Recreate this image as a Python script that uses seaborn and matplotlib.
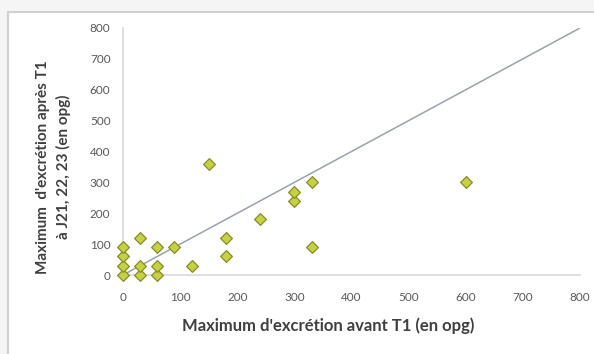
import matplotlib
matplotlib.use("Agg")
import matplotlib.pyplot as plt
import pandas as pd
import seaborn as sns
from matplotlib.patches import Rectangle

# max excretion before T1 (x) and after T1 at J21-23 (y), in opg
avant = [0, 0, 0, 0, 30, 30, 30, 60, 60, 60, 90, 120, 150, 180, 180, 240, 300, 300, 330, 330, 600]
apres = [0, 30, 60, 90, 0, 30, 120, 0, 30, 90, 90, 30, 360, 60, 120, 180, 240, 270, 300, 90, 300]
ref_line = [0, 800]
ticks = [0, 100, 200, 300, 400, 500, 600, 700, 800]

df = pd.DataFrame({"avant": avant, "apres": apres})

sns.set_style("white")
plt.rcParams['font.family'] = ['Lato', 'DejaVu Sans']

fig = plt.figure(figsize=(5.94, 3.54), dpi=100)
fig.patch.set_facecolor('#f5f5f5')
# chart area box
fig.patches.append(Rectangle((8/594, -0.1), 1.2, 1 - 12/354 + 0.1, transform=fig.transFigure,
                             facecolor='white', edgecolor='#d0d0d0', linewidth=1.5, zorder=-5))

ax = fig.add_axes([123/594, 1 - 275/354, 457/594, 247/354])
ax.set_facecolor('none')
ax.set_zorder(2)

sns.lineplot(x=ref_line, y=ref_line, ax=ax, color='#9aa3ad', linewidth=1.1, zorder=1)
sns.scatterplot(data=df, x="avant", y="apres", ax=ax, marker='D', s=36,
                color='#c3d23e', edgecolor='#8b8a2c', linewidth=0.9, zorder=3, clip_on=False)

ax.set_xlim(0, 800)
ax.set_ylim(0, 800)
ax.set_xticks(ticks)
ax.set_yticks(ticks)
ax.tick_params(axis='both', length=0, labelsize=8.5, labelcolor='#595959')
ax.tick_params(axis='x', pad=12)
ax.tick_params(axis='y', pad=9)
for s in ['top', 'right']:
    ax.spines[s].set_visible(False)
for s in ['left', 'bottom']:
    ax.spines[s].set_color('#d9d9d9')
    ax.spines[s].set_linewidth(1.2)

ax.set_xlabel("Maximum d'excrétion avant T1 (en opg)", fontsize=12, fontweight='bold',
              color='#404040', labelpad=12)
ax.xaxis.set_label_coords(0.449, -0.17)
ax.set_ylabel("Maximum  d'excrétion après T1\nà J21, 22, 23 (en opg)", fontsize=11,
              fontweight='bold', color='#404040', labelpad=18, linespacing=1.45)
ax.yaxis.set_label_coords(-0.114, 0.437)

fig.savefig("out.png", dpi=100, facecolor=fig.get_facecolor())
